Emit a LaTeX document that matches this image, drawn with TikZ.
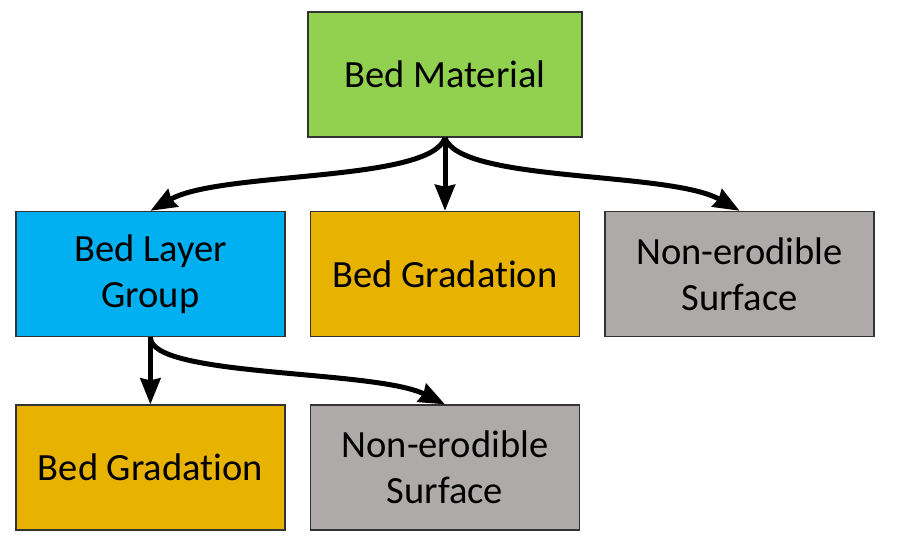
\documentclass[tikz,border=0pt]{standalone}
\usepackage{fontspec}
\setmainfont{Carlito}[Ligatures=NoCommon]
\usepackage{tikz}
\usetikzlibrary{arrows.meta,positioning}
\definecolor{verde}{HTML}{92D050}
\definecolor{azul}{HTML}{00B0F0}
\definecolor{oro}{HTML}{E8B200}
\definecolor{gris}{HTML}{AEAAAA}
\tikzstyle{caja} = [draw=black!80, line width=1.6pt, rectangle, minimum width=269pt, minimum height=125pt, inner sep=0pt, align=center, font=\fontsize{38.5}{46}\selectfont]
\tikzstyle{flecha} = [line width=5pt, -{Stealth[length=26pt,width=20pt,inset=2pt]}]

\begin{document}
\begin{tikzpicture}[x=1pt,y=-1pt]
	\useasboundingbox (0,0) rectangle (900,552);
	\node [caja, fill=verde, minimum width=274pt] (material) at (445,74.5) {Bed Material};
	\node [caja, fill=oro, below=73pt of material] (gradacion) {Bed Gradation};
	\node [caja, fill=azul, left=24pt of gradacion] (grupo) {Bed Layer\\Group};
	\node [caja, fill=gris, right=24pt of gradacion] (noerosion) {Non-erodible\\Surface};
	\node [caja, fill=oro, below=67pt of grupo] (gradacionb) {Bed Gradation};
	\node [caja, fill=gris, right=24pt of gradacionb] (noerosionb) {Non-erodible\\Surface};
	% flechas
	\draw [flecha] (material.south) .. controls +(-15,45) and +(70,-40) .. (grupo.north);
	\draw [flecha] (material.south) -- (gradacion.north);
	\draw [flecha] (material.south) .. controls +(15,45) and +(-70,-40) .. (noerosion.north);
	\draw [flecha] (grupo.south) -- (gradacionb.north);
	\draw [flecha] (grupo.south) .. controls +(0,40) and +(-70,-35) .. (noerosionb.north);
\end{tikzpicture}
\end{document}
